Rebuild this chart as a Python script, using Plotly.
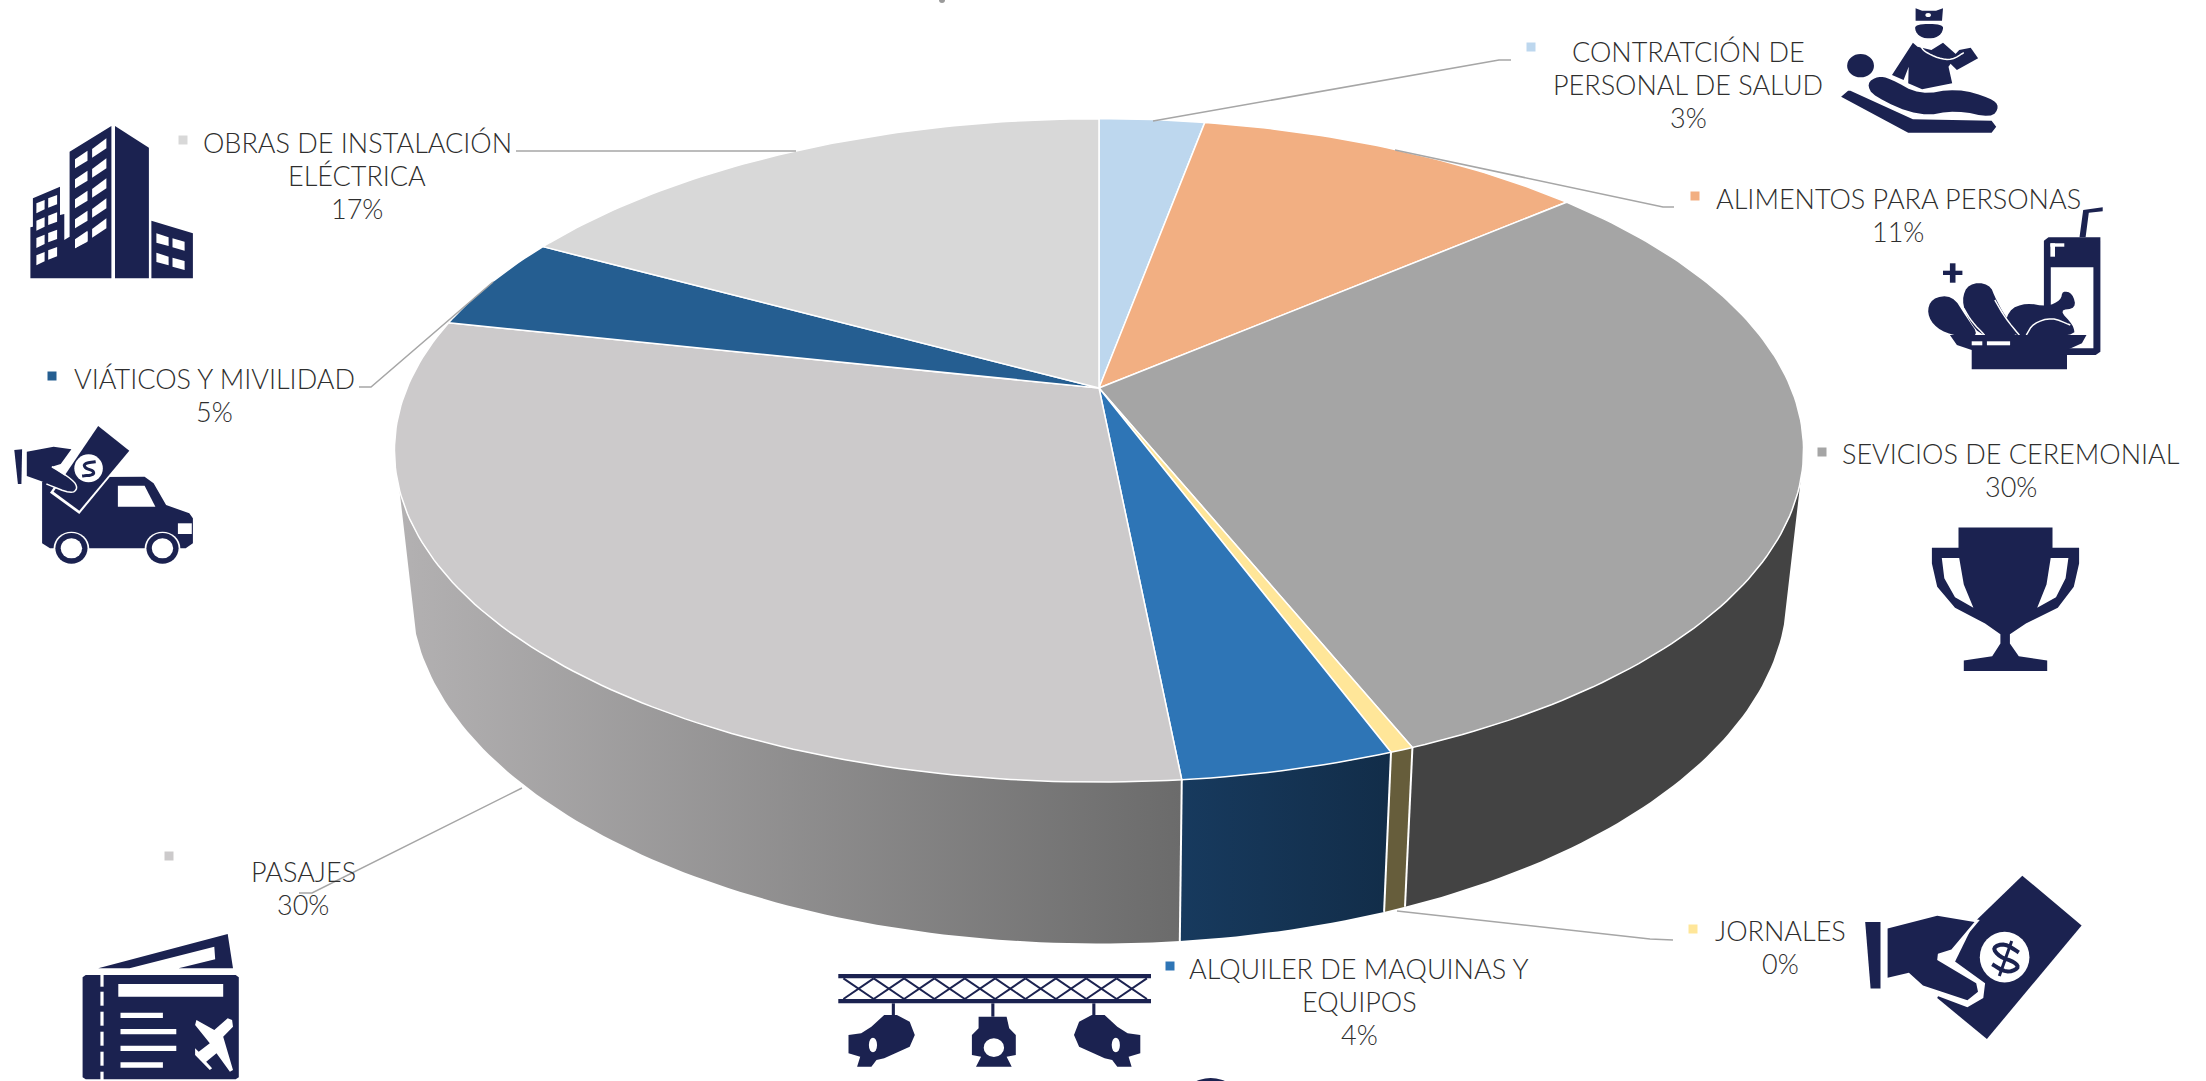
import math
import plotly.graph_objects as go

# ---------- data ----------
categories = [["CONTRATCIÓN DE", "PERSONAL DE SALUD"], ["ALIMENTOS PARA PERSONAS"], ["SEVICIOS DE CEREMONIAL"],
              ["JORNALES"], ["ALQUILER DE MAQUINAS Y", "EQUIPOS"], ["PASAJES"], ["VIÁTICOS Y MIVILIDAD"],
              ["OBRAS DE INSTALACIÓN", "ELÉCTRICA"]]
values = [2.9, 10.8, 30.2, 0.45, 4.1, 29.95, 4.6, 17.0]
top_colors = ["#BDD7EE", "#F2AF82", "#A5A5A5", "#FFE699", "#2E75B6", "#CCCACB", "#255E91", "#D8D8D8"]
wall_colors = ["#5F6C77", "#795841", "#434343", "#665D3B", "#163A5F", "#999999", "#122F49", "#6C6C6C"]

# ---------- layout constants ----------
W, H = 2206, 1081
NAVY = "#1B2250"
WHITE = "#FFFFFF"
TXT = "#2E2E2E"
LEAD = "#A6A6A6"
K = 0.188
TOP = dict(x0=1099, y0=388, A=692, B=320)
BOT = dict(x0=1099, y0=526, A=675.6, B=339)
VIS_FROM, VIS_TO = math.radians(106), math.radians(252.5)
label_first_y = [51, 198, 453, 930, 968, 871, 378, 142]
label_x = [1688, 1898, 2011, 1780, 1359, 303, 214, 357]
LINE_PITCH = 33
key_pos = [(1531, 47), (1695, 196), (1822, 452), (1693, 929), (1170, 966), (169, 856), (52, 376), (183, 140)]
leaders = [[(1153, 121), (1499, 60), (1511, 60)],
           [(1395, 150), (1663, 207), (1674, 207)],
           [(1397, 911), (1650, 939), (1673, 940)],
           [(522, 788), (312, 893), (299, 893)],
           [(493, 282), (371, 387), (359, 387)],
           [(796, 151), (516, 151)]]


def proj(theta, g):
    u, v = math.sin(theta), math.cos(theta)
    w = 1 + K * v
    return g["x0"] + g["A"] * u / w, g["y0"] - g["B"] * v / w


def arc(a, b, g):
    n = max(2, int(abs(b - a) * 60))
    pts = [proj(a + (b - a) * i / n, g) for i in range(n + 1)]
    return [p[0] for p in pts], [p[1] for p in pts]


total = sum(values)
bounds = [0.0]
for val in values:
    bounds.append(bounds[-1] + val / total * 2 * math.pi)

fig = go.Figure()

# visible walls only, between the two silhouette tangents
for i, (a, b) in enumerate(zip(bounds[:-1], bounds[1:])):
    a2, b2_ = max(a, VIS_FROM), min(b, VIS_TO)
    if a2 >= b2_:
        continue
    xt, yt = arc(a2, b2_, TOP)
    xb, yb = arc(a2, b2_, BOT)
    kw = dict(fillcolor=wall_colors[i])
    if i == 5:
        kw = dict(fillgradient=dict(type="horizontal", colorscale=[[0, "#B3B1B2"], [1, "#6B6B6B"]]))
    if i == 4:
        kw = dict(fillgradient=dict(type="horizontal", colorscale=[[0, "#173A5E"], [1, "#122D49"]]))
    fig.add_trace(go.Scatter(x=xt + xb[::-1], y=yt + yb[::-1], mode="lines", fill="toself",
                             line=dict(width=0, color="rgba(0,0,0,0)"), hoverinfo="skip", **kw))
# white seams on front walls
for b in bounds[3:6]:
    xt, yt = proj(b, TOP)
    xb, yb = proj(b, BOT)
    fig.add_trace(go.Scatter(x=[xt, xb], y=[yt, yb], mode="lines", line=dict(color=WHITE, width=2), hoverinfo="skip"))

# top surface
for i, (a, b) in enumerate(zip(bounds[:-1], bounds[1:])):
    xt, yt = arc(a, b, TOP)
    fig.add_trace(go.Scatter(x=[TOP["x0"]] + xt + [TOP["x0"]], y=[TOP["y0"]] + yt + [TOP["y0"]], mode="lines",
                             fill="toself", fillcolor=top_colors[i], line=dict(color=WHITE, width=1.5),
                             name=" ".join(categories[i]), hoverinfo="skip"))

# leader lines
for seg in leaders:
    fig.add_trace(go.Scatter(x=[p[0] for p in seg], y=[p[1] for p in seg], mode="lines",
                             line=dict(color=LEAD, width=1.5), hoverinfo="skip"))
# legend keys
fig.add_trace(go.Scatter(x=[p[0] for p in key_pos], y=[p[1] for p in key_pos], mode="markers",
                         marker=dict(symbol="square", size=9, color=top_colors, line=dict(width=0)), hoverinfo="skip"))

# labels: one annotation per line, so the line pitch is exact
annos = []
for lines, val, lx, ly in zip(categories, values, label_x, label_first_y):
    for j, t in enumerate(lines + [f"{val:.0f}%"]):
        annos.append(dict(x=lx, y=ly + j * LINE_PITCH, xref="x", yref="y", text=t, showarrow=False,
                          xanchor="center", yanchor="middle",
                          font=dict(family="Lato", size=27, color=TXT, weight=300)))

# ---------- icons ----------
shapes = []


def chaikin(pts, closed=True, it=2):
    for _ in range(it):
        out = []
        n = len(pts)
        rng = range(n) if closed else range(n - 1)
        for i in rng:
            p, q = pts[i], pts[(i + 1) % n]
            out.append((0.75 * p[0] + 0.25 * q[0], 0.75 * p[1] + 0.25 * q[1]))
            out.append((0.25 * p[0] + 0.75 * q[0], 0.25 * p[1] + 0.75 * q[1]))
        if not closed:
            out = [pts[0]] + out + [pts[-1]]
        pts = out
    return pts


def poly(pts, box, color=NAVY, smooth=False):
    if smooth:
        pts = chaikin(pts)
    ox, oy, sx, sy = box
    d = "M " + " L ".join(f"{ox + x / sx:.1f},{oy + y / sy:.1f}" for x, y in pts) + " Z"
    shapes.append(dict(type="path", path=d, xref="x", yref="y", fillcolor=color, line=dict(width=0), layer="above"))


def stroke(pts, box, width, color=NAVY, smooth=False):
    if smooth:
        pts = chaikin(pts, closed=False)
    ox, oy, sx, sy = box
    d = "M " + " L ".join(f"{ox + x / sx:.1f},{oy + y / sy:.1f}" for x, y in pts)
    shapes.append(dict(type="path", path=d, xref="x", yref="y", line=dict(width=width, color=color), layer="above"))


def rect(x0, y0, x1, y1, box, color=NAVY):
    poly([(x0, y0), (x1, y0), (x1, y1), (x0, y1)], box, color)


def ell(cx, cy, rx, ry, box, color=NAVY):
    ox, oy, sx, sy = box
    shapes.append(dict(type="circle", xref="x", yref="y", x0=ox + (cx - rx) / sx, x1=ox + (cx + rx) / sx,
                       y0=oy + (cy - ry) / sy, y1=oy + (cy + ry) / sy, fillcolor=color, line=dict(width=0), layer="above"))


# doctor and patient
b1 = (1480, 0, 2.16, 3)
poly([(941, 25), (955, 32), (985, 32), (1000, 25), (998, 62), (941, 62)], b1)
ell(968, 45, 6, 6, b1, WHITE)
rect(938, 64, 1002, 70, b1, WHITE)
poly([(940, 72), (1000, 72), (1000, 95), (985, 115), (955, 115), (940, 95)], b1, smooth=True)
poly([(935, 128), (945, 140), (975, 150), (1000, 128), (1030, 165), (1012, 200), (1020, 250), (955, 268),
      (925, 250), (926, 200), (915, 240), (890, 225)], b1)
poly([(1012, 185), (1035, 150), (1060, 143), (1076, 175), (1030, 210)], b1)
stroke([(950, 135), (960, 155), (990, 175), (1020, 180), (1045, 158)], b1, 1.5, WHITE, smooth=True)
ell(822, 197, 29, 35, b1)
poly([(835, 250), (860, 228), (885, 235), (950, 285), (1030, 265), (1105, 295), (1122, 320), (1105, 354), (1030, 330),
      (950, 350), (850, 290)], b1, smooth=True)
poly([(795, 272), (780, 290), (925, 398), (1105, 398), (1115, 380), (1105, 362), (935, 358), (800, 272)], b1)
# food
poly([(1228, 712), (1340, 712), (1340, 1055), (1330, 1065), (1228, 1065), (1218, 1050), (1218, 722)], b1)
rect(1233, 802, 1325, 1045, b1, WHITE)
rect(1232, 730, 1262, 740, b1, WHITE)
rect(1232, 730, 1242, 770, b1, WHITE)
poly([(1295, 712), (1303, 630), (1345, 622), (1345, 634), (1315, 638), (1308, 712)], b1)
rect(1000, 812, 1042, 825, b1)
rect(1015, 790, 1027, 848, b1)
poly([(1140, 930), (1180, 908), (1225, 920), (1255, 900), (1258, 872), (1280, 880), (1288, 925), (1250, 930),
      (1282, 975), (1285, 1010), (1130, 1010)], b1, smooth=True)
stroke([(1180, 1005), (1195, 970), (1235, 952), (1275, 975)], b1, 1.5, WHITE, smooth=True)
poly([(975, 895), (1020, 885), (1050, 950), (1080, 1010), (1030, 1010), (985, 985), (965, 940)], b1, smooth=True)
poly([(1055, 850), (1100, 850), (1115, 900), (1135, 950), (1170, 1012), (1085, 1012), (1055, 960), (1040, 900)], b1, smooth=True)
stroke([(1045, 925), (1062, 965), (1090, 1005)], b1, 1.5, WHITE, smooth=True)
stroke([(1112, 900), (1135, 955), (1165, 1005)], b1, 1.5, WHITE, smooth=True)
poly([(1015, 1005), (1310, 1005), (1300, 1030), (1268, 1050), (1268, 1108), (1062, 1108), (1062, 1050), (1030, 1035)], b1)
rect(1062, 1024, 1085, 1036, b1, WHITE)
rect(1095, 1024, 1145, 1036, b1, WHITE)

# building
b2 = (0, 100, 2.8, 3)
poly([(195, 155), (312, 78), (312, 535), (85, 535), (85, 382), (92, 380), (92, 295), (168, 260), (168, 345),
      (180, 342), (180, 420), (195, 410)], b2)
poly([(322, 78), (417, 143), (417, 535), (322, 535)], b2)
poly([(424, 362), (540, 400), (540, 535), (424, 535)], b2)
for r in range(5):
    dy = 60 * r
    poly([(210, 178 + dy), (245, 152 + dy), (245, 182 + dy), (210, 205 + dy)], b2, WHITE)
    poly([(258, 147 + dy), (298, 115 + dy), (298, 145 + dy), (258, 173 + dy)], b2, WHITE)
poly([(210, 425), (245, 395), (245, 425), (210, 445)], b2, WHITE)
for r in range(4):
    dy = 52 * r
    poly([(102, 310 + dy), (125, 300 + dy), (125, 328 + dy), (102, 340 + dy)], b2, WHITE)
    poly([(135, 295 + dy), (160, 285 + dy), (160, 313 + dy), (135, 323 + dy)], b2, WHITE)
for r in range(2):
    dy = 58 * r
    poly([(438, 400 + dy), (472, 412 + dy), (472, 438 + dy), (438, 428 + dy)], b2, WHITE)
    poly([(483, 415 + dy), (517, 425 + dy), (517, 452 + dy), (483, 442 + dy)], b2, WHITE)

# truck
poly([(118, 1145), (160, 1132), (405, 1130), (430, 1150), (465, 1215), (530, 1240), (540, 1255), (540, 1330),
      (520, 1345), (140, 1345), (118, 1330)], b2)
poly([(330, 1157), (405, 1157), (435, 1220), (330, 1220)], b2, WHITE)
rect(498, 1270, 537, 1302, b2, WHITE)
for cx in (200, 455):
    ell(cx, 1345, 50, 50, b2, WHITE)
    ell(cx, 1345, 45, 46, b2)
    ell(cx, 1345, 30, 30, b2, WHITE)
poly([(275, 972), (368, 1052), (222, 1242), (140, 1178)], b2, WHITE)
poly([(275, 978), (362, 1052), (222, 1232), (150, 1175)], b2)
ell(248, 1105, 40, 42, b2, WHITE)
stroke([(268, 1085), (235, 1090), (238, 1105), (262, 1112), (262, 1125), (230, 1128)], b2, 3, smooth=True)
poly([(75, 1055), (150, 1040), (200, 1048), (170, 1092), (145, 1100), (215, 1150), (215, 1178), (190, 1182),
      (120, 1145), (75, 1128)], b2)
stroke([(145, 1100), (205, 1140), (218, 1165), (200, 1182), (130, 1152)], b2, 1.5, WHITE, smooth=True)
poly([(40, 1050), (62, 1048), (60, 1152), (50, 1152)], b2)

# ticket
b3 = (0, 780, 2.24, 3)
poly([(220, 565), (510, 462), (522, 565), (400, 565), (482, 538), (480, 500), (290, 565)], b3)
poly([(192, 585), (528, 585), (535, 592), (535, 892), (528, 898), (192, 898), (185, 892), (185, 592)], b3)
for y0 in (585, 635, 695, 755, 815, 875):
    rect(225, y0, 232, y0 + 42 if y0 > 585 else y0 + 35, b3, WHITE)
rect(265, 612, 500, 650, b3, WHITE)
rect(270, 698, 365, 714, b3, WHITE)
rect(270, 747, 395, 763, b3, WHITE)
rect(270, 797, 395, 813, b3, WHITE)
rect(270, 847, 365, 863, b3, WHITE)
poly([(520, 720), (510, 715), (480, 750), (440, 720), (437, 735), (470, 790), (445, 815), (437, 805), (437, 825),
      (470, 870), (475, 865), (462, 845), (485, 820), (515, 875), (522, 870), (500, 770), (522, 740)], b3, WHITE)

# truss and lamps
b4 = (800, 900, 1.96, 3)
rect(75, 222, 688, 235, b4)
rect(75, 297, 688, 310, b4)
for c in range(10):
    x = 85 + c * 59.5
    stroke([(x, 235), (x + 59.5, 297)], b4, 2)
    stroke([(x + 59.5, 235), (x, 297)], b4, 2)
rect(180, 310, 186, 345, b4)
rect(375, 310, 381, 350, b4)
rect(573, 310, 579, 345, b4)
lamp = [(165, 345), (190, 345), (215, 365), (225, 405), (215, 440), (165, 475), (150, 480), (140, 500), (112, 500), (118, 470),
        (95, 460), (95, 405), (120, 400), (140, 380)]
poly(lamp, b4)
ell(143, 435, 8, 22, b4, WHITE)
poly([(762 - px, py) for px, py in lamp], b4)
ell(619, 435, 8, 22, b4, WHITE)
poly([(350, 350), (405, 350), (410, 385), (423, 405), (423, 465), (405, 470), (415, 500), (345, 500), (355, 470),
      (337, 465), (337, 405), (350, 385)], b4)
ell(380, 443, 20, 28, b4, WHITE)
ell(805, 600, 55, 66, b4)

# trophy
b5 = (1650, 420, 2.82, 2.37)
poly([(870, 255), (1135, 255), (1135, 303), (1210, 303), (1210, 340), (1195, 395), (1150, 445), (1060, 482),
      (1015, 508), (1015, 530), (1040, 560), (1120, 570), (1120, 595), (885, 595), (885, 570), (965, 560), (988, 530),
      (988, 508), (945, 482), (860, 445), (810, 395), (795, 340), (795, 303), (870, 303)], b5)
poly([(823, 327), (872, 327), (885, 390), (912, 445), (860, 420), (830, 375)], b5, WHITE)
poly([(1180, 327), (1130, 327), (1118, 390), (1092, 445), (1145, 420), (1172, 375)], b5, WHITE)

# hand with bill
poly([(607, 1190), (650, 1190), (650, 1347), (622, 1347)], b5)
poly([(1050, 1080), (1217, 1198), (950, 1467), (810, 1370), (915, 1190)], b5)
poly([(660, 1205), (810, 1165), (930, 1185), (860, 1255), (830, 1265), (945, 1335), (940, 1370), (895, 1392),
      (770, 1352), (730, 1320), (660, 1332)], b5, WHITE)
poly([(670, 1205), (810, 1175), (915, 1190), (850, 1255), (812, 1265), (810, 1280), (920, 1335), (925, 1355),
      (895, 1375), (770, 1340), (730, 1310), (670, 1322)], b5)
ell(1000, 1273, 70, 60, b5, WHITE)
stroke([(1040, 1262), (1000, 1240), (965, 1250), (985, 1272), (1030, 1285), (1040, 1300), (1005, 1310), (965, 1290)], b5, 4, smooth=True)
stroke([(1020, 1235), (985, 1318)], b5, 3)

# speck cut off at the top edge
ell(942, 0, 3, 3, (0, 0, 1, 1), "#9A9A9A")

fig.update_layout(width=W, height=H, margin=dict(l=0, r=0, t=0, b=0), showlegend=False,
                  paper_bgcolor="white", plot_bgcolor="white", annotations=annos, shapes=shapes,
                  xaxis=dict(visible=False, range=[0, W], fixedrange=True),
                  yaxis=dict(visible=False, range=[H, 0], fixedrange=True))
fig.write_html("out.html", config=dict(displayModeBar=False), post_script="document.body.style.margin='0';")
